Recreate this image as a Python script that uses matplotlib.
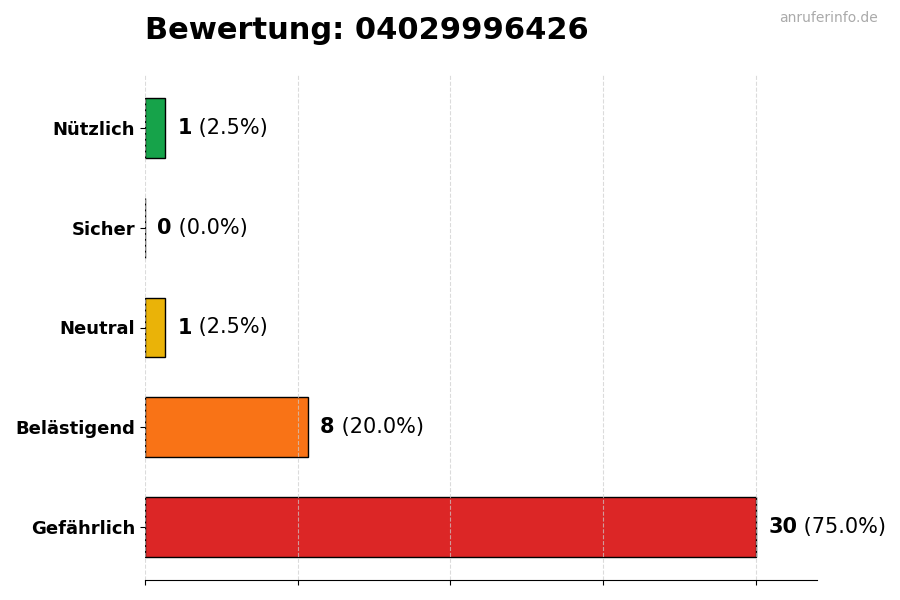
import matplotlib.pyplot as plt

categories = ['Gefährlich', 'Belästigend', 'Neutral', 'Sicher', 'Nützlich']
counts = [30, 8, 1, 0, 1]
colors = ['#dc2626', '#f97316', '#eab308', '#64748b', '#16a34a']
phone = '04029996426'

total = sum(counts)

fig = plt.figure(figsize=(9, 6), dpi=100)
ax = fig.add_axes([145 / 900, 20 / 600, 672 / 900, 505 / 600])

bars = ax.barh(range(len(categories)), counts, height=0.6, color=colors,
               edgecolor='black', linewidth=1)

ax.set_yticks(range(len(categories)))
ax.set_yticklabels(categories, fontsize=13, fontweight='bold')
ax.set_xlim(0, max(counts) * 1.1)
ax.set_xticks([0, 7.5, 15, 22.5, 30])
ax.set_xticklabels([])
ax.grid(axis='x', linestyle='--', color='#cccccc', alpha=0.7)

for s in ['top', 'right', 'left']:
    ax.spines[s].set_visible(False)

# value labels: bold count + normal percentage
for i, c in enumerate(counts):
    pct = c / total * 100
    t1 = ax.text(c + 0.6, i, f'{c}', va='center', ha='left',
                 fontsize=15, fontweight='bold')
    ax.annotate(f' ({pct:.1f}%)', xy=(1, 0.5), xycoords=t1,
                va='center', ha='left', fontsize=15)

ax.set_title(f'Bewertung: {phone}', loc='left', fontsize=22,
             fontweight='bold', pad=26)
fig.text(0.975, 0.97, 'anruferinfo.de', ha='right', va='center',
         fontsize=10, color='#aaaaaa')

fig.savefig('out.png', dpi=100)
